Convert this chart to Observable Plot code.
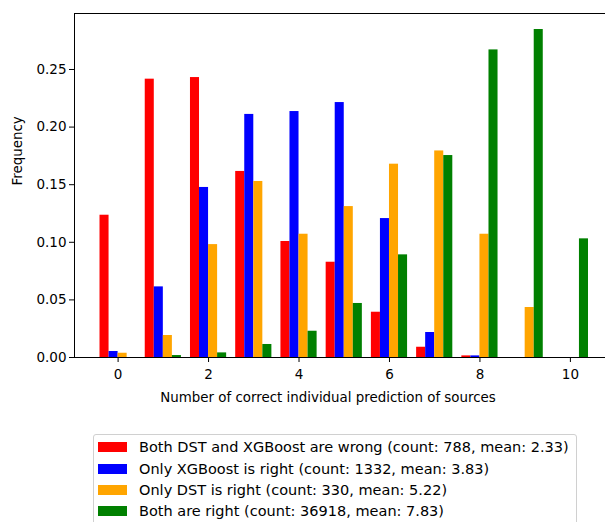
<!DOCTYPE html>
<html>
<head>
<meta charset="utf-8">
<script src="https://cdn.jsdelivr.net/npm/d3@7"></script>
<script src="https://cdn.jsdelivr.net/npm/@observablehq/plot@0.6"></script>
<style>
  html, body { margin: 0; padding: 0; background: #fff; }
  body { width: 605px; height: 522px; overflow: hidden; position: relative; font-family: "DejaVu Sans", sans-serif; }
  #chart { position: absolute; left: 0; top: 0; }
  #legend { position: absolute; left: 93px; top: 434px; width: 484px; height: 100px; border: 1px solid #d0d0d0; border-radius: 3px; box-sizing: border-box; }
  .row { position: absolute; left: 4px; height: 16px; display: flex; align-items: center; font-size: 14.5px; color: #000; white-space: nowrap; }
  .sw { width: 29px; height: 10px; margin-right: 12px; flex: none; }
</style>
</head>
<body>
<div id="chart"></div>
<div id="legend"></div>
<script>
// ---- data ----
const bins = [0, 1, 2, 3, 4, 5, 6, 7, 8, 9, 10];
const seriesNames = [
  "Both DST and XGBoost are wrong (count: 788, mean: 2.33)",
  "Only XGBoost is right (count: 1332, mean: 3.83)",
  "Only DST is right (count: 330, mean: 5.22)",
  "Both are right (count: 36918, mean: 7.83)"
];
const seriesColors = ["#ff0000", "#0000ff", "#ffa500", "#008000"];
const bothWrong   = [0.1235, 0.2416, 0.2430, 0.1615, 0.1007, 0.0827, 0.0393, 0.0089, 0.0014, 0, 0];
const onlyXGBoost = [0.0052, 0.0613, 0.1476, 0.2110, 0.2135, 0.2213, 0.1206, 0.0217, 0.0014, 0, 0];
const onlyDST     = [0.0037, 0.0191, 0.0980, 0.1528, 0.1070, 0.1310, 0.1678, 0.1793, 0.1070, 0.0434, 0];
const bothRight   = [0, 0.0017, 0.0040, 0.0113, 0.0228, 0.0469, 0.0891, 0.1753, 0.2670, 0.2847, 0.1030];
const xTicks = [0, 2, 4, 6, 8, 10];
const yTicks = [0, 0.05, 0.10, 0.15, 0.20, 0.25];
const xLabel = "Number of correct individual prediction of sources";
const yLabel = "Frequency";

// ---- build table ----
const allSeries = [bothWrong, onlyXGBoost, onlyDST, bothRight];
const barW = 0.2;
const rows = [];
allSeries.forEach((vals, i) => {
  bins.forEach((b, j) => {
    rows.push({series: seriesNames[i], idx: i, bin: b, value: vals[j]});
  });
});

const xDomain = [-0.964, 10.776];
const yDomain = [0, 0.2986];

const chart = Plot.plot({
  width: 605,
  height: 420,
  marginLeft: 74,
  marginRight: 0,
  marginTop: 13,
  marginBottom: 63,
  style: {fontFamily: "DejaVu Sans, sans-serif", fontSize: "13.5px", color: "#000", background: "#fff"},
  x: {domain: xDomain},
  y: {domain: yDomain},
  color: {domain: seriesNames, range: seriesColors},
  marks: [
    Plot.rect(rows, {
      x1: d => d.bin - 0.4 + barW * d.idx,
      x2: d => d.bin - 0.4 + barW * (d.idx + 1),
      y1: 0,
      y2: "value",
      fill: "series",
      inset: 0
    }),
    Plot.axisX({ticks: xTicks, tickSize: 5, tickPadding: 7, fontSize: 13.5, label: null, tickFormat: d => String(d)}),
    Plot.axisY({ticks: yTicks, tickSize: 5, tickPadding: 3, fontSize: 13.5, label: null, tickFormat: d3.format(".2f")}),
    Plot.ruleY([yDomain[0]], {stroke: "#000", strokeWidth: 1}),
    Plot.ruleY([yDomain[1]], {stroke: "#000", strokeWidth: 1}),
    Plot.ruleX([xDomain[0]], {stroke: "#000", strokeWidth: 1}),
    Plot.text([xLabel], {frameAnchor: "bottom", text: d => d, dx: -12, dy: 44, fontSize: 13.4, fill: "#000"}),
    Plot.text([yLabel], {frameAnchor: "left", text: d => d, dx: -57, rotate: -90, fontSize: 13.4, fill: "#000"})
  ]
});
document.getElementById("chart").appendChild(chart);

// ---- legend ----
const legend = document.getElementById("legend");
const rowTops = [4, 26, 47, 68];
seriesNames.forEach((name, i) => {
  const r = document.createElement("div");
  r.className = "row";
  r.style.top = rowTops[i] + "px";
  const sw = document.createElement("div");
  sw.className = "sw";
  sw.style.background = seriesColors[i];
  const t = document.createElement("span");
  t.textContent = name;
  r.appendChild(sw);
  r.appendChild(t);
  legend.appendChild(r);
});
</script>
</body>
</html>
